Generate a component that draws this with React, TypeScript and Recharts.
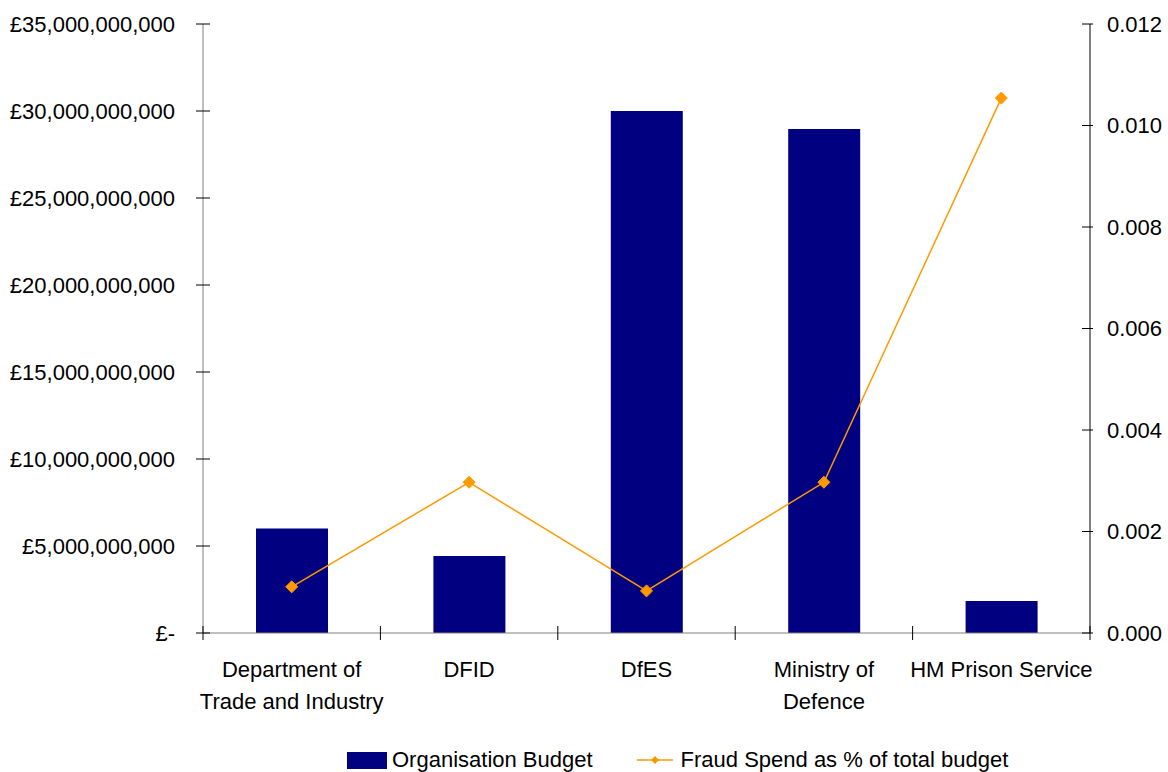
import { ComposedChart, Bar, Line, XAxis, YAxis, Legend } from 'recharts'

const departments = ['Department of\nTrade and Industry', 'DFID', 'DfES', 'Ministry of\nDefence', 'HM Prison Service']
const budgets = [6.0e9, 4.42e9, 30.0e9, 28.97e9, 1.84e9]
const fraudShare = [0.00091, 0.00297, 0.00083, 0.00297, 0.01054]
const budgetTicks = [0, 5e9, 10e9, 15e9, 20e9, 25e9, 30e9, 35e9]
const shareTicks = [0, 0.002, 0.004, 0.006, 0.008, 0.01, 0.012]

const data = departments.map((name, i) => ({
  name,
  budget: budgets[i],
  share: fraudShare[i],
}))

const FONT = '"Liberation Sans", Arial, sans-serif'
const FS = 22
const NAVY = '#000080'
const ORANGE = '#FF9900'
const BAND = (1090 - 203) / departments.length

const fmtPounds = (v: number) => (v === 0 ? '£-' : '£' + v.toLocaleString('en-GB'))

const LeftTick = (props: any) => {
  const { x, y, payload } = props
  return (
    <g>
      <line x1={x - 7} x2={x + 7} y1={y} y2={y} stroke="#000" />
      <text x={x - 28} y={y} dy="0.36em" textAnchor="end" fontSize={FS} fontFamily={FONT} fill="#000">
        {fmtPounds(payload.value)}
      </text>
    </g>
  )
}

const RightTick = (props: any) => {
  const { x, y, payload } = props
  return (
    <g>
      <line x1={x - 8} x2={x + 3} y1={y} y2={y} stroke="#000" />
      <text x={x + 17} y={y} dy="0.36em" textAnchor="start" fontSize={FS} fontFamily={FONT} fill="#000">
        {Number(payload.value).toFixed(3)}
      </text>
    </g>
  )
}

const BottomTick = (props: any) => {
  const { x, y, payload } = props
  const lines = String(payload.value).split('\n')
  const half = BAND / 2
  const last = payload.index === departments.length - 1
  return (
    <g>
      <line x1={x - half} x2={x - half} y1={y - 7} y2={y + 7} stroke="#000" />
      {last && <line x1={x + half} x2={x + half} y1={y - 7} y2={y + 7} stroke="#000" />}
      <text x={x} y={y + 36} textAnchor="middle" fontSize={FS} fontFamily={FONT} fill="#000">
        {lines.map((l, i) => (
          <tspan key={i} x={x} dy={i === 0 ? '0.36em' : 32}>
            {l}
          </tspan>
        ))}
      </text>
    </g>
  )
}

const Diamond = (props: any) => {
  const { cx, cy } = props
  if (cx == null || cy == null) return null
  const r = 6
  return (
    <polygon
      points={`${cx},${cy - r} ${cx + r},${cy} ${cx},${cy + r} ${cx - r},${cy}`}
      fill={ORANGE}
      stroke={ORANGE}
    />
  )
}

const renderLegend = () => (
  <div
    style={{
      display: 'flex',
      justifyContent: 'flex-start',
      alignItems: 'center',
      fontFamily: FONT,
      fontSize: FS,
      color: '#000',
      paddingTop: 15,
      paddingLeft: 347,
    }}
  >
    <span style={{ display: 'inline-flex', alignItems: 'center', marginRight: 44 }}>
      <span style={{ display: 'inline-block', width: 40, height: 17, background: NAVY, marginRight: 5 }} />
      Organisation Budget
    </span>
    <span style={{ display: 'inline-flex', alignItems: 'center' }}>
      <svg width={36} height={14} style={{ marginRight: 8 }}>
        <line x1={0} x2={36} y1={7} y2={7} stroke={ORANGE} strokeWidth={1.5} />
        <polygon points="18,3 22,7 18,11 14,7" fill={ORANGE} />
      </svg>
      Fraud Spend as % of total budget
    </span>
  </div>
)

export default function App() {
  return (
    <div style={{ position: 'absolute', left: 0, top: 0, width: 1168, height: 772, background: '#fff' }}>
      <ComposedChart width={1168} height={772} data={data} margin={{ top: 24, right: 0, bottom: 0, left: 0 }}>
        <XAxis
          dataKey="name"
          height={99}
          stroke="#808080"
          tickLine={false}
          tickSize={0}
          tickMargin={0}
          tick={<BottomTick />}
          interval={0}
        />
        <YAxis
          yAxisId="left"
          width={203}
          domain={[0, 35e9]}
          ticks={budgetTicks}
          stroke="#808080"
          tickLine={false}
          tickSize={0}
          tickMargin={0}
          tick={<LeftTick />}
          interval={0}
        />
        <YAxis
          yAxisId="right"
          orientation="right"
          width={78}
          domain={[0, 0.012]}
          ticks={shareTicks}
          stroke="#000"
          tickLine={false}
          tickSize={0}
          tickMargin={0}
          tick={<RightTick />}
          interval={0}
        />
        <Legend verticalAlign="bottom" height={40} content={renderLegend} />
        <Bar yAxisId="left" dataKey="budget" name="Organisation Budget" fill={NAVY} barSize={72} isAnimationActive={false} />
        <Line
          yAxisId="right"
          dataKey="share"
          name="Fraud Spend as % of total budget"
          stroke={ORANGE}
          strokeWidth={1.5}
          dot={<Diamond />}
          activeDot={false}
          isAnimationActive={false}
        />
      </ComposedChart>
    </div>
  )
}
